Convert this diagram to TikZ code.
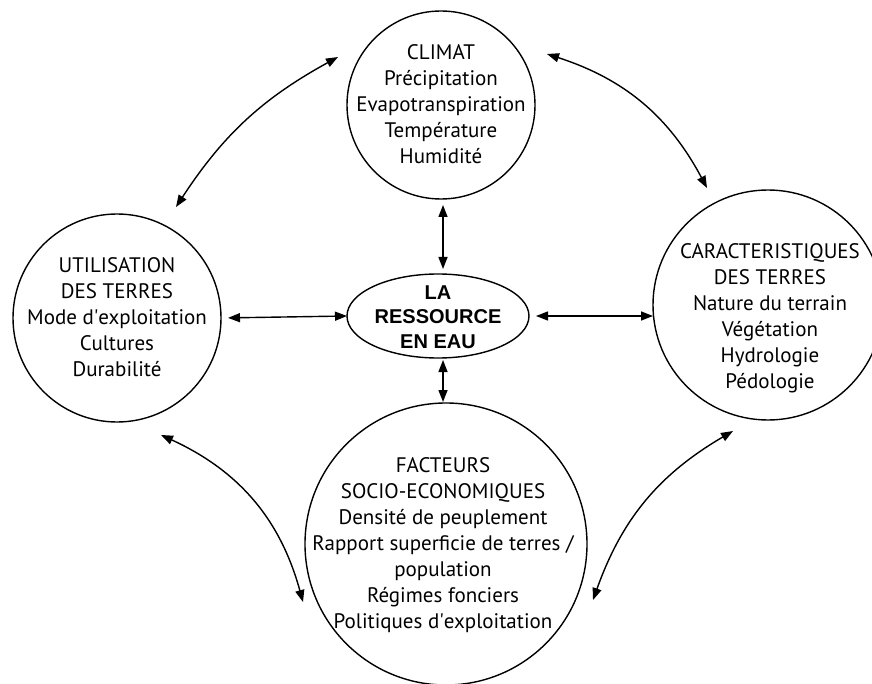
\documentclass[tikz,border=0pt]{standalone}
\usepackage{fontspec}
\setmainfont{PT Sans}
\newfontfamily\boldarial{Liberation Sans}
\newfontfamily\plainpt{PT Sans}[Ligatures=ResetAll]
\newcommand{\sq}{{\plainpt\symbol{39}}}
\usetikzlibrary{arrows.meta,shapes.geometric,calc}
\begin{document}
\begin{tikzpicture}[x=1pt,y=-1pt,
  every node/.style={inner sep=0pt, outer sep=0pt},
  bub/.style={circle, draw, line width=1.4pt},
  txt/.style={align=center, font=\fontsize{21}{26}\selectfont},
  arr/.style={{Triangle[length=12pt,width=9pt]}-{Triangle[length=12pt,width=9pt]}, line width=1.4pt}]
\useasboundingbox (0,0) rectangle (872,684);
\clip (0,0) rectangle (872,684);
\fill[white] (0,0) rectangle (872,684);

% circles
\node[bub, minimum size=188pt] (clim) at (441,105) {};
\node[bub, minimum size=208pt] (util) at (117,318) {};
\node[bub, minimum size=230pt] (car) at (768,305) {};
\node[bub, minimum size=282pt] (bot) at (446,544) {};
\node[ellipse, draw, line width=1.4pt, minimum width=182pt, minimum height=84pt] (res) at (438,316) {};

% texts
\node[txt] (climt) at (441,104) {CLIMAT\\Précipitation\\Evapotranspiration\\Température\\Humidité};
\node[txt] (utilt) at (117,317) {UTILISATION\\DES TERRES\\Mode d\sq exploitation\\Cultures\\Durabilité};
\node[txt] (cart) at (770,318) {CARACTERISTIQUES\\DES TERRES\\Nature du terrain\\Végétation\\Hydrologie\\Pédologie};
\node[txt] (bott) at (443,545) {FACTEURS\\SOCIO-ECONOMIQUES\\Densité de peuplement\\Rapport superficie de terres /\\population\\Régimes fonciers\\Politiques d\sq exploitation};
\node[align=center, font=\boldarial\bfseries\fontsize{20}{24.5}\selectfont] (rest) at (438,317) {LA\\RESSOURCE\\EN EAU};

% straight arrows
\draw[arr, shorten <=6pt, shorten >=5pt] ([xshift=2pt]clim.south) -- ([xshift=5pt]res.north);
\draw[arr, shorten <=2pt, shorten >=1pt] ([xshift=5pt]res.south) -- ([xshift=5pt]res.south |- bot.north);
\draw[arr, shorten <=7pt] (util.east) -- (res.west);
\draw[arr, shorten <=7pt] (res.east) -- (res.east -| car.west);

% curved arrows
\coordinate (tlA) at ($(clim.center)+(-103,-48)$);
\coordinate (tlB) at ($(util.center)+(59,-111)$);
\coordinate (trA) at ($(clim.center)+(106,-51)$);
\coordinate (trB) at ($(car.center)+(-61,-117)$);
\coordinate (blA) at ($(util.center)+(44,117)$);
\coordinate (blB) at ($(bot.center)+(-143,58)$);
\coordinate (brA) at ($(car.center)+(-35,126)$);
\coordinate (brB) at ($(bot.center)+(147,56)$);
\draw[arr] (tlA) to[bend right=14] (tlB);
\draw[arr] (trA) to[bend left=22] (trB);
\draw[arr] (blA) to[bend left=25] (blB);
\draw[arr] (brA) to[bend right=20] (brB);
\end{tikzpicture}
\end{document}
